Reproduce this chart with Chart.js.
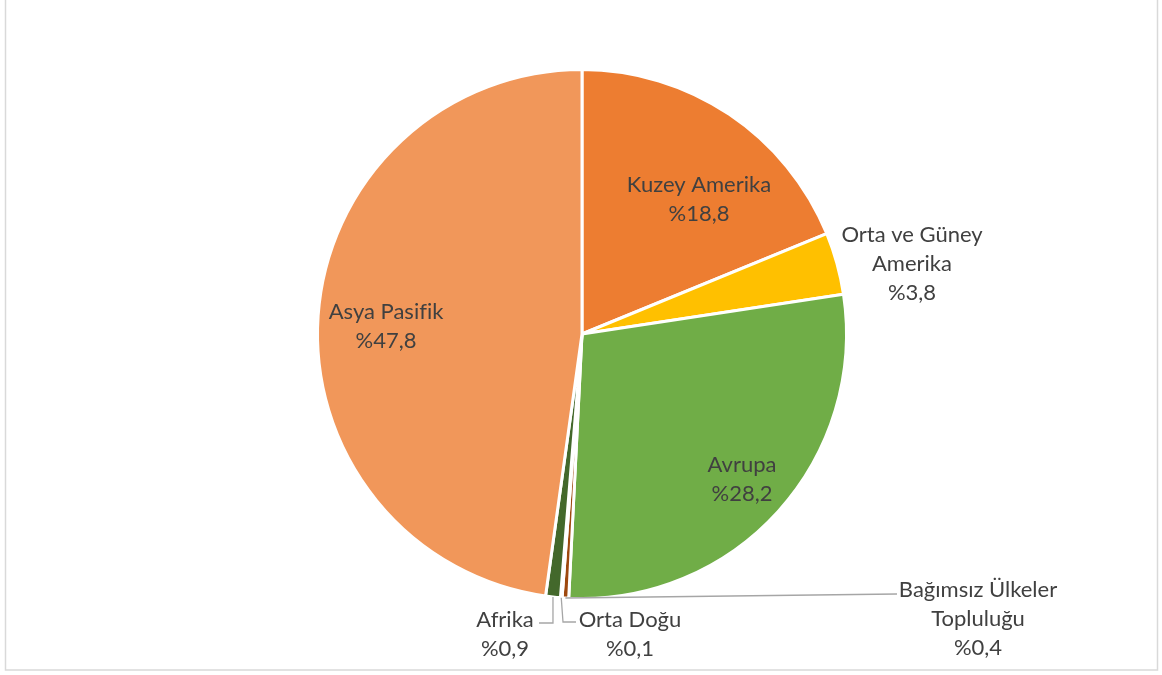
<!DOCTYPE html>
<html lang="tr">
<head>
<meta charset="UTF-8">
<title>Bölgelere göre dağılım</title>
<script src="https://cdn.jsdelivr.net/npm/chart.js@4"></script>
<style>
  html, body { margin: 0; padding: 0; background: #fff; }
  canvas { display: block; }
</style>
</head>
<body>
<canvas id="pieChart" width="1162" height="675"></canvas>
<script>
// ======= Veriler =======
const bolgeler = [
    ["Kuzey Amerika"],
    ["Orta ve Güney", "Amerika"],
    ["Avrupa"],
    ["Bağımsız Ülkeler", "Topluluğu"],
    ["Orta Doğu"],
    ["Afrika"],
    ["Asya Pasifik"]
];
const paylar = [18.8, 3.8, 28.2, 0.4, 0.1, 0.9, 47.8];
const renkler = ["#ED7D31", "#FFC000", "#70AD47", "#9E480E", "#997300", "#43682B", "#F1975A"];

// etiketlerin pasta merkezine göre yeri (px), küçük dilimlerde kılavuz çizgisi
const etiketYeri = [
    { dx: 117, dy: -135 },
    { dx: 330, dy: -70 },
    { dx: 160, dy: 145 },
    { dx: 396, dy: 285, cizgi: [[315, 260]] },
    { dx: 48, dy: 300, cizgi: [[-19, 288], [-6, 288]] },
    { dx: -77, dy: 300, cizgi: [[null, 289], [-43, 289]] },
    { dx: -196, dy: -8 }
];

const YAZI = "22px Lato, 'Open Sans', sans-serif";
const SATIR = 29;

function yuzde(v) {
    return "%" + v.toFixed(1).replace(".", ",");
}

// çerçeve
const cerceve = {
    id: "cerceve",
    beforeDraw(chart) {
        const c = chart.ctx;
        c.save();
        c.fillStyle = "#fff";
        c.fillRect(0, 0, chart.width, chart.height);
        c.strokeStyle = "#D9D9D9";
        c.lineWidth = 1.5;
        c.strokeRect(5.5, -2, 1152, 672);
        c.restore();
    }
};

// dilim etiketleri + kılavuz çizgileri
const etiketler = {
    id: "etiketler",
    afterDatasetsDraw(chart) {
        const c = chart.ctx;
        const meta = chart.getDatasetMeta(0);
        const cx = meta.data[0].x;
        const cy = meta.data[0].y;

        c.save();
        meta.data.forEach((arc, i) => {
            const yer = etiketYeri[i];

            if (yer.cizgi) {
                const orta = (arc.startAngle + arc.endAngle) / 2;
                const px = cx + Math.cos(orta) * arc.outerRadius;
                const py = cy + Math.sin(orta) * arc.outerRadius;
                c.beginPath();
                c.moveTo(px, py);
                yer.cizgi.forEach(([x, y]) => {
                    c.lineTo(x === null ? px : cx + x, cy + y);
                });
                c.strokeStyle = "#A6A6A6";
                c.lineWidth = 1.3;
                c.stroke();
            }

            const satirlar = [...bolgeler[i], yuzde(paylar[i])];
            const ust = cy + yer.dy - (satirlar.length - 1) * SATIR / 2;
            c.font = YAZI;
            c.fillStyle = "#404040";
            c.textAlign = "center";
            c.textBaseline = "middle";
            satirlar.forEach((s, k) => {
                c.fillText(s, cx + yer.dx, ust + k * SATIR);
            });
        });
        c.restore();
    }
};

const ctx = document.getElementById("pieChart").getContext("2d");

new Chart(ctx, {
    type: "pie",
    data: {
        labels: bolgeler.map(b => b.join(" ")),
        datasets: [{
            data: paylar,
            backgroundColor: renkler,
            borderColor: "#fff",
            borderWidth: 3
        }]
    },
    options: {
        responsive: false,
        animation: false,
        layout: {
            padding: { top: 68, bottom: 75, left: 316, right: 314 }
        },
        plugins: {
            legend: { display: false },
            tooltip: { enabled: false }
        }
    },
    plugins: [cerceve, etiketler]
});
</script>
</body>
</html>
